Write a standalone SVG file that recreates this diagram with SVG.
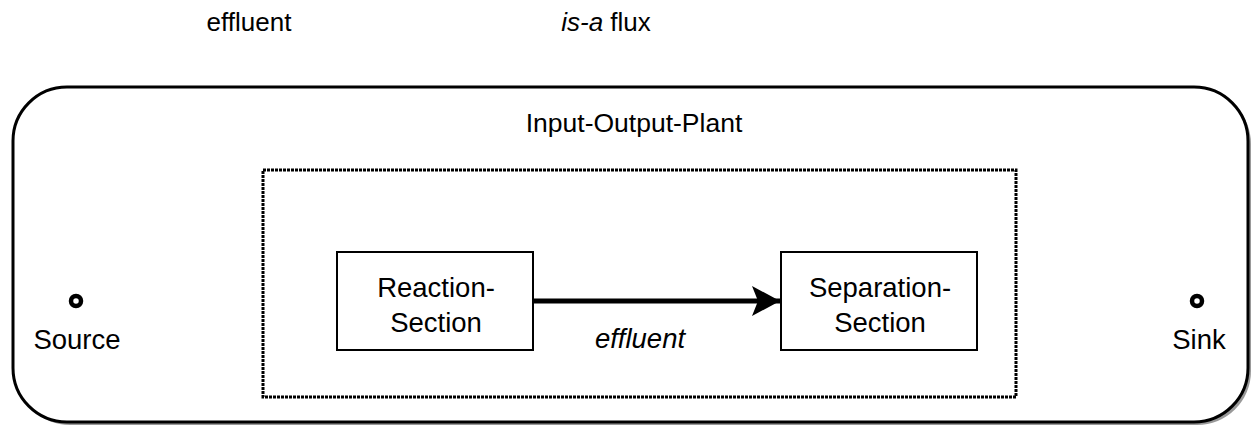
<svg xmlns="http://www.w3.org/2000/svg" width="1254" height="428" viewBox="0 0 1254 428">
<defs>
<style>
text{font-family:"Liberation Sans",Arial,sans-serif;font-size:26px;fill:#000}
.big{font-size:27.5px}
.box{fill:#fff;stroke:#000;stroke-width:2}
.it{font-style:italic}
.port{fill:#fff;stroke:#000;stroke-width:4.5}
</style>
<marker id="ah" markerWidth="28" markerHeight="30" refX="28" refY="15" orient="auto" markerUnits="userSpaceOnUse">
<path d="M0,0 L28,15 L0,30 L6,15 Z" fill="#000"/>
</marker>
</defs>
<rect width="1254" height="428" fill="#fff"/>
<g id="labels">
<text x="249" y="31" text-anchor="middle">effluent</text>
<text x="606" y="31" text-anchor="middle"><tspan class="it">is-a</tspan> flux</text>
</g>
<g id="plant">
<rect x="16" y="90" width="1235" height="335" rx="54" ry="54" fill="#999"/>
<rect x="13" y="87" width="1235" height="335" rx="54" ry="54" fill="#fff" stroke="#000" stroke-width="3"/>
<text x="634" y="132" text-anchor="middle" style="font-size:26.5px">Input-Output-Plant</text>
</g>
<g id="inner">
<rect x="263" y="170" width="753" height="227" fill="none" stroke="#000" stroke-width="3" stroke-dasharray="3,1"/>
</g>
<g id="source">
<circle class="port" cx="76" cy="301" r="5"/>
<text x="77" y="349" text-anchor="middle" class="big">Source</text>
</g>
<g id="sink">
<circle class="port" cx="1197" cy="301" r="5"/>
<text x="1199" y="349" text-anchor="middle" class="big">Sink</text>
</g>
<g id="reaction">
<rect class="box" x="337" y="252" width="196" height="98"/>
<text x="436" y="297" text-anchor="middle" class="big">Reaction-</text>
<text x="436" y="332" text-anchor="middle" class="big">Section</text>
</g>
<g id="separation">
<rect class="box" x="781" y="252" width="196" height="98"/>
<text x="880" y="297" text-anchor="middle" class="big">Separation-</text>
<text x="880" y="332" text-anchor="middle" class="big">Section</text>
</g>
<g id="connectors">
<line x1="534" y1="301" x2="780" y2="301" stroke="#000" stroke-width="5" marker-end="url(#ah)"/>
<text class="it big" x="640" y="348" text-anchor="middle">effluent</text>
</g>
</svg>
